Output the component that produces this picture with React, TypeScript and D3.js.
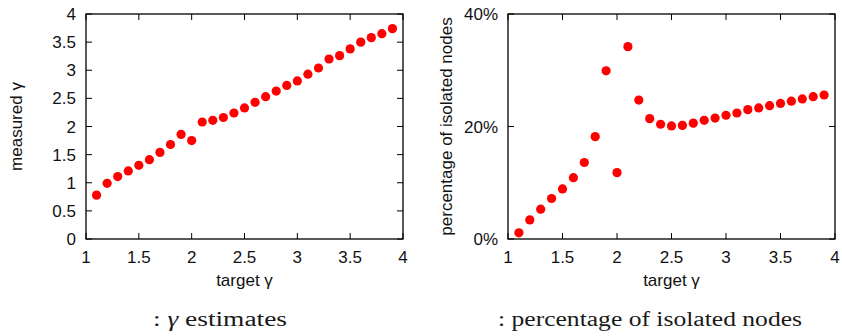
import * as d3 from 'd3'

// target gamma values shared by both panels
const targetGamma = [
  1.1, 1.2, 1.3, 1.4, 1.5, 1.6, 1.7, 1.8, 1.9, 2.0,
  2.1, 2.2, 2.3, 2.4, 2.5, 2.6, 2.7, 2.8, 2.9, 3.0,
  3.1, 3.2, 3.3, 3.4, 3.5, 3.6, 3.7, 3.8, 3.9,
]
const measuredGamma = [
  0.78, 0.99, 1.11, 1.21, 1.31, 1.41, 1.54, 1.68, 1.86, 1.75,
  2.08, 2.11, 2.16, 2.24, 2.33, 2.43, 2.53, 2.63, 2.73, 2.81,
  2.93, 3.04, 3.2, 3.26, 3.38, 3.5, 3.58, 3.65, 3.74,
]
const isolatedPct = [
  1.1, 3.4, 5.3, 7.2, 8.9, 10.9, 13.6, 18.2, 29.9, 11.8,
  34.2, 24.7, 21.4, 20.4, 20.1, 20.2, 20.6, 21.1, 21.5, 22.0,
  22.4, 23.0, 23.3, 23.7, 24.1, 24.5, 24.9, 25.3, 25.6,
]
const xTicks = [1, 1.5, 2, 2.5, 3, 3.5, 4]
const gammaTicks = [0, 0.5, 1, 1.5, 2, 2.5, 3, 3.5, 4]
const pctTicks = [0, 20, 40]

const sans = '"Liberation Sans", Arial, Helvetica, sans-serif'
const serif = '"Liberation Serif", "Times New Roman", serif'

interface PanelProps {
  left: number
  right: number
  yMax: number
  yTicks: number[]
  yFmt: (v: number) => string
  values: number[]
  yTitle: string
  yTitleX: number
}

function Panel({ left, right, yMax, yTicks, yFmt, values, yTitle, yTitleX }: PanelProps) {
  const top = 14
  const bottom = 239
  const tick = 6
  const x = d3.scaleLinear().domain([1, 4]).range([left, right])
  const y = d3.scaleLinear().domain([0, yMax]).range([bottom, top])
  const cy = (top + bottom) / 2

  return (
    <g>
      {xTicks.map(t => (
        <g key={'x' + t}>
          <line x1={x(t)} x2={x(t)} y1={bottom} y2={bottom - tick} stroke="#000" />
          <line x1={x(t)} x2={x(t)} y1={top} y2={top + tick} stroke="#000" />
          <text x={x(t)} y={263} textAnchor="middle" fontSize={17} fontFamily={sans} fill="#111">
            {d3.format('~g')(t)}
          </text>
        </g>
      ))}
      {yTicks.map(t => (
        <g key={'y' + t}>
          <line x1={left} x2={left + tick} y1={y(t)} y2={y(t)} stroke="#000" />
          <line x1={right} x2={right - tick} y1={y(t)} y2={y(t)} stroke="#000" />
          <text x={left - 10} y={y(t)} dy="0.36em" textAnchor="end" fontSize={17} fontFamily={sans} fill="#111">
            {yFmt(t)}
          </text>
        </g>
      ))}
      <rect x={left} y={top} width={right - left} height={bottom - top} fill="none" stroke="#000" strokeWidth={1.3} />
      {values.map((v, i) => (
        <circle key={i} cx={x(targetGamma[i])} cy={y(v)} r={4.6} fill="#ff0000" />
      ))}
      <text x={(left + right) / 2} y={286} textAnchor="middle" fontSize={17} fontFamily={sans} fill="#111">
        target γ
      </text>
      <text
        transform={`translate(${yTitleX},${cy}) rotate(-90)`}
        textAnchor="middle"
        fontSize={17}
        fontFamily={sans}
        fill="#111"
      >
        {yTitle}
      </text>
    </g>
  )
}

export default function App() {
  return (
    <svg width={842} height={336} style={{ position: 'absolute', left: 0, top: 0, background: '#fff' }}>
      <rect width={842} height={336} fill="#fff" />
      <Panel
        left={86}
        right={403}
        yMax={4}
        yTicks={gammaTicks}
        yFmt={d3.format('~g')}
        values={measuredGamma}
        yTitle="measured γ"
        yTitleX={22}
      />
      <Panel
        left={508}
        right={835}
        yMax={40}
        yTicks={pctTicks}
        yFmt={v => v + '%'}
        values={isolatedPct}
        yTitle="percentage of isolated nodes"
        yTitleX={452}
      />
      <text x={220} y={326} textAnchor="middle" fontSize={20} fontFamily={serif} fill="#1a1a1a" textLength={134} lengthAdjust="spacingAndGlyphs">
        : <tspan fontStyle="italic">γ</tspan> estimates
      </text>
      <text x={650} y={326} textAnchor="middle" fontSize={20} fontFamily={serif} fill="#1a1a1a" textLength={304} lengthAdjust="spacingAndGlyphs">
        : percentage of isolated nodes
      </text>
    </svg>
  )
}
